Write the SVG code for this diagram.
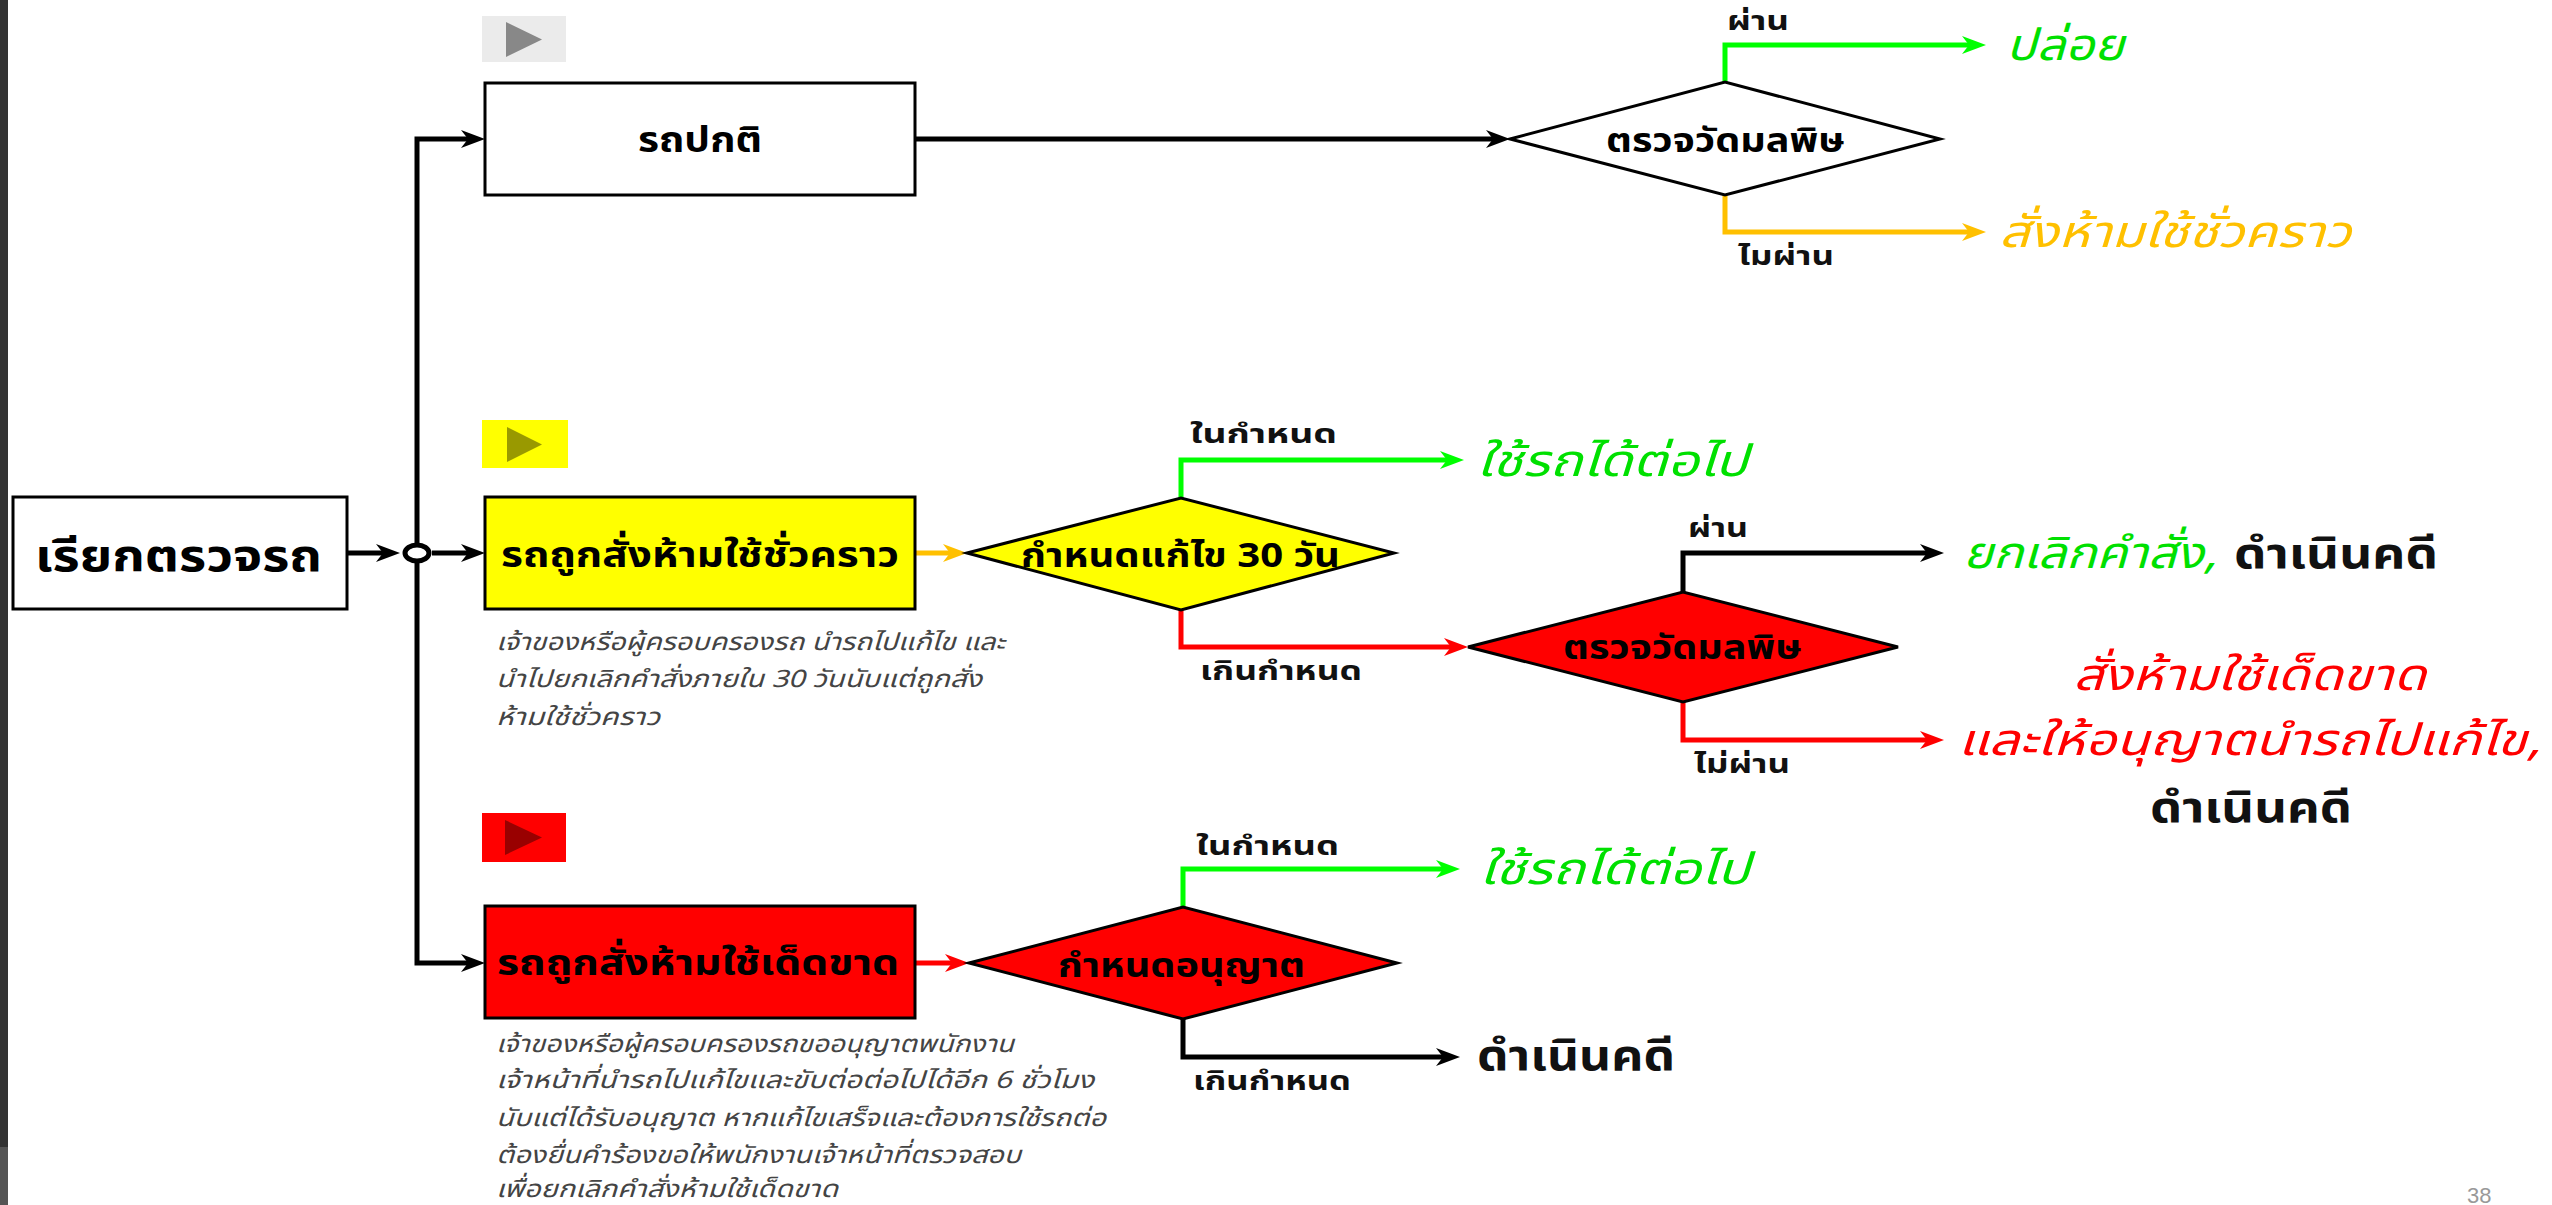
<svg xmlns="http://www.w3.org/2000/svg" width="2552" height="1205" viewBox="0 0 2552 1205">
<style>
text{font-family:"Noto Sans Thai","Noto Sans Thai UI","Noto Sans","DejaVu Sans",sans-serif}
.box{stroke:#000;stroke-width:3}
.nt{font-weight:bold;font-size:36px;fill:#000}
.dt{font-weight:bold;font-size:34px;fill:#000}
.lb{font-weight:bold;font-size:26px;fill:#111}
.oc{font-style:italic;font-size:44px}
.pr{font-weight:bold;font-size:42px;fill:#111}
.note{font-style:italic;font-size:24px;fill:#444}
.c{fill:none;stroke-width:5}
.k{stroke:#000}.g{stroke:#00ff00}.o{stroke:#ffc000}.r{stroke:#ff0000}
</style>
<defs>
<marker id="ak" viewBox="0 -10 26 20" refX="10" refY="0" markerWidth="26" markerHeight="20" markerUnits="userSpaceOnUse" orient="auto"><path d="M24,0 L0,-9 L7,0 L0,9 Z" fill="#000"/></marker>
<marker id="ag" viewBox="0 -10 26 20" refX="10" refY="0" markerWidth="26" markerHeight="20" markerUnits="userSpaceOnUse" orient="auto"><path d="M24,0 L0,-9 L7,0 L0,9 Z" fill="#00ff00"/></marker>
<marker id="ao" viewBox="0 -10 26 20" refX="10" refY="0" markerWidth="26" markerHeight="20" markerUnits="userSpaceOnUse" orient="auto"><path d="M24,0 L0,-9 L7,0 L0,9 Z" fill="#ffc000"/></marker>
<marker id="ar" viewBox="0 -10 26 20" refX="10" refY="0" markerWidth="26" markerHeight="20" markerUnits="userSpaceOnUse" orient="auto"><path d="M24,0 L0,-9 L7,0 L0,9 Z" fill="#ff0000"/></marker>
</defs>
<rect width="2552" height="1205" fill="#fff"/>
<rect x="0" y="0" width="8" height="1147" fill="#333"/>
<rect x="0" y="1147" width="8" height="58" fill="#555"/>

<g id="connectors">
<path class="c k" d="M347,553 H386" marker-end="url(#ak)"/>
<path class="c k" d="M432,553 H471" marker-end="url(#ak)"/>
<path class="c k" d="M417,553 V139 H471" marker-end="url(#ak)"/>
<path class="c k" d="M417,553 V963 H471" marker-end="url(#ak)"/>
<path class="c k" d="M915,139 H1496" marker-end="url(#ak)"/>
<path class="c g" d="M1725,82 V45 H1972" marker-end="url(#ag)"/>
<path class="c o" d="M1725,195 V232 H1972" marker-end="url(#ao)"/>
<path class="c o" d="M915,553 H953" marker-end="url(#ao)"/>
<path class="c g" d="M1181,498 V460 H1450" marker-end="url(#ag)"/>
<path class="c r" d="M1181,610 V647 H1454" marker-end="url(#ar)"/>
<path class="c k" d="M1683,592 V553 H1930" marker-end="url(#ak)"/>
<path class="c r" d="M1683,702 V740 H1930" marker-end="url(#ar)"/>
<path class="c r" d="M915,963 H955" marker-end="url(#ar)"/>
<path class="c g" d="M1183,907 V869 H1446" marker-end="url(#ag)"/>
<path class="c k" d="M1183,1019 V1057 H1446" marker-end="url(#ak)"/>
<text class="lb" x="1727" y="30" textLength="62" lengthAdjust="spacingAndGlyphs">ผ่าน</text>
<text class="lb" x="1738" y="265" textLength="96" lengthAdjust="spacingAndGlyphs">ไมผ่าน</text>
<text class="lb" x="1190" y="443" textLength="147" lengthAdjust="spacingAndGlyphs">ในกำหนด</text>
<text class="lb" x="1200" y="680" textLength="162" lengthAdjust="spacingAndGlyphs">เกินกำหนด</text>
<text class="lb" x="1688" y="537" textLength="60" lengthAdjust="spacingAndGlyphs">ผ่าน</text>
<text class="lb" x="1694" y="773" textLength="96" lengthAdjust="spacingAndGlyphs">ไม่ผ่าน</text>
<text class="lb" x="1196" y="855" textLength="143" lengthAdjust="spacingAndGlyphs">ในกำหนด</text>
<text class="lb" x="1193" y="1090" textLength="158" lengthAdjust="spacingAndGlyphs">เกินกำหนด</text>
</g>

<g id="junction"><ellipse cx="417" cy="553" rx="12" ry="8" fill="#fff" stroke="#000" stroke-width="5"/></g>

<g id="flag-normal"><rect x="482" y="16" width="84" height="46" fill="#ebebeb"/><polygon points="506,22 506,57 542,39.5" fill="#888"/></g>
<g id="flag-temp"><rect x="482" y="420" width="86" height="48" fill="#ffff00"/><polygon points="507,427 507,462 542,444.5" fill="#999900"/></g>
<g id="flag-perm"><rect x="482" y="813" width="84" height="49" fill="#ff0000"/><polygon points="505,820 505,855 542,837.5" fill="#990000"/></g>

<g id="n-start"><rect class="box" x="13" y="497" width="334" height="112" fill="#fff"/><text class="nt" style="font-size:44px" x="35" y="571" textLength="287" lengthAdjust="spacingAndGlyphs">เรียกตรวจรถ</text></g>
<g id="n-normal"><rect class="box" x="485" y="83" width="430" height="112" fill="#fff"/><text class="nt" x="638" y="152" textLength="124" lengthAdjust="spacingAndGlyphs">รถปกติ</text></g>
<g id="n-temp"><rect class="box" x="485" y="497" width="430" height="112" fill="#ffff00"/><text class="nt" x="501" y="567" textLength="398" lengthAdjust="spacingAndGlyphs">รถถูกสั่งห้ามใช้ชั่วคราว</text></g>
<g id="n-perm"><rect class="box" x="485" y="906" width="430" height="112" fill="#ff0000"/><text class="nt" x="497" y="975" textLength="402" lengthAdjust="spacingAndGlyphs">รถถูกสั่งห้ามใช้เด็ดขาด</text></g>

<g id="d-check1"><polygon class="box" points="1510,139 1725,82 1940,139 1725,195" fill="#fff"/><text class="dt" x="1606" y="152" textLength="239" lengthAdjust="spacingAndGlyphs">ตรวจวัดมลพิษ</text></g>
<g id="d-fix30"><polygon class="box" points="967,553 1181,498 1394,553 1181,610" fill="#ffff00"/><text class="dt" x="1021" y="567" textLength="319" lengthAdjust="spacingAndGlyphs">กำหนดแก้ไข 30 วัน</text></g>
<g id="d-check2"><polygon class="box" points="1468,647 1683,592 1898,647 1683,702" fill="#ff0000"/><text class="dt" x="1563" y="659" textLength="239" lengthAdjust="spacingAndGlyphs">ตรวจวัดมลพิษ</text></g>
<g id="d-permit"><polygon class="box" points="969,963 1183,907 1397,963 1183,1019" fill="#ff0000"/><text class="dt" x="1058" y="977" textLength="247" lengthAdjust="spacingAndGlyphs">กำหนดอนุญาต</text></g>

<g id="o-release"><text class="oc" fill="#00e000" x="2006" y="60" textLength="118" lengthAdjust="spacingAndGlyphs">ปล่อย</text></g>
<g id="o-tempban"><text class="oc" fill="#ffc000" x="1999" y="247" textLength="352" lengthAdjust="spacingAndGlyphs">สั่งห้ามใช้ชั่วคราว</text></g>
<g id="o-use1"><text class="oc" fill="#00e000" x="1477" y="476" textLength="271" lengthAdjust="spacingAndGlyphs">ใช้รถได้ต่อไป</text></g>
<g id="o-cancel"><text class="oc" fill="#00e000" x="1963" y="568" textLength="254" lengthAdjust="spacingAndGlyphs">ยกเลิกคำสั่ง,</text><text class="pr" x="2234" y="568" textLength="204" lengthAdjust="spacingAndGlyphs">ดำเนินคดี</text></g>
<g id="o-permban"><text class="oc" fill="#ff0000" x="2073" y="690" textLength="353" lengthAdjust="spacingAndGlyphs">สั่งห้ามใช้เด็ดขาด</text><text class="oc" fill="#ff0000" x="1958" y="755" textLength="583" lengthAdjust="spacingAndGlyphs">และให้อนุญาตนำรถไปแก้ไข,</text><text class="pr" x="2150" y="822" textLength="202" lengthAdjust="spacingAndGlyphs">ดำเนินคดี</text></g>
<g id="o-use2"><text class="oc" fill="#00e000" x="1480" y="884" textLength="270" lengthAdjust="spacingAndGlyphs">ใช้รถได้ต่อไป</text></g>
<g id="o-prosecute"><text class="pr" x="1477" y="1070" textLength="198" lengthAdjust="spacingAndGlyphs">ดำเนินคดี</text></g>

<g id="note-temp">
<text class="note" x="496" y="650" textLength="509" lengthAdjust="spacingAndGlyphs">เจ้าของหรือผู้ครอบครองรถ นำรถไปแก้ไข และ</text>
<text class="note" x="496" y="687" textLength="486" lengthAdjust="spacingAndGlyphs">นำไปยกเลิกคำสั่งภายใน  30 วันนับแต่ถูกสั่ง</text>
<text class="note" x="496" y="725" textLength="164" lengthAdjust="spacingAndGlyphs">ห้ามใช้ชั่วคราว</text>
</g>
<g id="note-perm">
<text class="note" x="496" y="1052" textLength="518" lengthAdjust="spacingAndGlyphs">เจ้าของหรือผู้ครอบครองรถขออนุญาตพนักงาน</text>
<text class="note" x="496" y="1088" textLength="598" lengthAdjust="spacingAndGlyphs">เจ้าหน้าที่นำรถไปแก้ไขและขับต่อต่อไปได้อีก 6 ชั่วโมง</text>
<text class="note" x="496" y="1126" textLength="610" lengthAdjust="spacingAndGlyphs">นับแต่ได้รับอนุญาต หากแก้ไขเสร็จและต้องการใช้รถต่อ</text>
<text class="note" x="496" y="1163" textLength="525" lengthAdjust="spacingAndGlyphs">ต้องยื่นคำร้องขอให้พนักงานเจ้าหน้าที่ตรวจสอบ</text>
<text class="note" x="496" y="1197" textLength="342" lengthAdjust="spacingAndGlyphs">เพื่อยกเลิกคำสั่งห้ามใช้เด็ดขาด</text>
</g>
<text x="2467" y="1203" style="font-family:'Liberation Sans',sans-serif;font-size:22px" fill="#999">38</text>
</svg>
